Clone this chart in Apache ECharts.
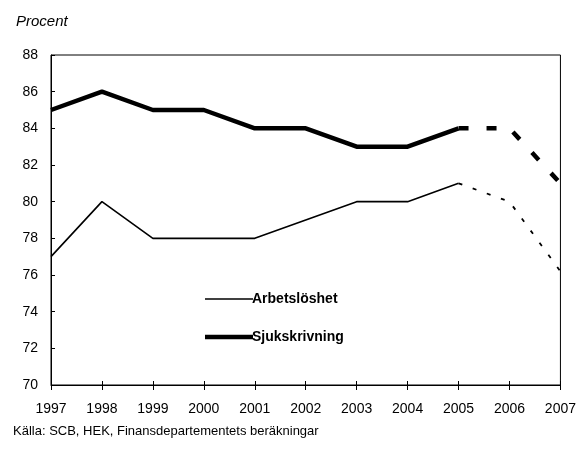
<!DOCTYPE html>
<html>
<head>
<meta charset="utf-8">
<script src="https://cdn.jsdelivr.net/npm/echarts@6/dist/echarts.min.js"></script>
<style>
  html, body { margin: 0; padding: 0; background: #fff; }
  #chart { width: 579px; height: 449px; }
</style>
</head>
<body>
<div id="chart"></div>
<script>
// år på x-axeln
var years = ['1997', '1998', '1999', '2000', '2001', '2002', '2003', '2004', '2005', '2006', '2007'];

// utfall
var arbetsloshet = [77, 80, 78, 78, 78, 79, 80, 80, 81, null, null];
var sjukskrivning = [85, 86, 85, 85, 84, 84, 83, 83, 84, null, null];

// prognos (streckad)
var arbetsloshetPrognos = [null, null, null, null, null, null, null, null, 81, 80, 76.2];
var sjukskrivningPrognos = [null, null, null, null, null, null, null, null, 84, 84, 81];

var yTicks = { min: 70, max: 88, step: 2 };

var sans = "'Liberation Sans', Arial, sans-serif";

var chart = echarts.init(document.getElementById('chart'));

// en legend per serie, så att linjetjockleken kan skilja
function legendFor(name, top, thickness) {
    return {
        data: [name],
        left: 200,
        top: top,
        icon: 'rect',
        itemWidth: 48,
        itemHeight: thickness,
        itemGap: 0,
        itemStyle: { color: '#000' },
        textStyle: { fontFamily: sans, fontWeight: 'bold', fontSize: 14, color: '#000', padding: [0, 0, 0, -6] }
    };
}

var option = {
    animation: false,
    backgroundColor: '#fff',
    title: [{
        text: 'Procent',
        left: 11,
        top: 9,
        textStyle: { fontFamily: sans, fontStyle: 'italic', fontWeight: 'normal', fontSize: 15, color: '#000' }
    }, {
        text: 'Källa: SCB, HEK, Finansdepartementets beräkningar',
        left: 8,
        top: 420,
        textStyle: { fontFamily: sans, fontWeight: 'normal', fontSize: 13, color: '#000' }
    }],
    legend: [
        legendFor('Arbetslöshet', 287, 1.6),
        legendFor('Sjukskrivning', 325, 4.5)
    ],
    grid: {
        left: 51,
        right: 18,
        top: 55,
        bottom: 64,
        show: true,
        borderColor: '#000',
        borderWidth: 1
    },
    xAxis: [{
        type: 'category',
        data: years,
        boundaryGap: false,
        axisLine: { lineStyle: { color: '#000', width: 1 } },
        axisTick: { show: true, length: 5, lineStyle: { color: '#000' } },
        axisLabel: { color: '#000', fontFamily: sans, fontSize: 14, margin: 17 },
        splitLine: { show: false }
    }, {
        type: 'category',
        data: years,
        boundaryGap: false,
        position: 'bottom',
        axisLine: { show: false },
        axisTick: { show: true, inside: true, length: 4, lineStyle: { color: '#000' } },
        axisLabel: { show: false },
        splitLine: { show: false }
    }],
    yAxis: {
        type: 'value',
        min: yTicks.min,
        max: yTicks.max,
        interval: yTicks.step,
        axisLine: { show: true, lineStyle: { color: '#000', width: 1 } },
        axisTick: { show: true, inside: true, length: 4, lineStyle: { color: '#000' } },
        axisLabel: { color: '#000', fontFamily: sans, fontSize: 14, margin: 13 },
        splitLine: { show: false }
    },
    series: [{
        name: 'Arbetslöshet',
        type: 'line',
        data: arbetsloshet,
        symbol: 'none',
        lineStyle: { color: '#000', width: 1.6 },
        itemStyle: { color: '#000' },
        z: 3
    }, {
        name: 'Sjukskrivning',
        type: 'line',
        data: sjukskrivning,
        symbol: 'none',
        lineStyle: { color: '#000', width: 4.5 },
        itemStyle: { color: '#000' },
        z: 3
    }, {
        name: 'Arbetslöshet prognos',
        type: 'line',
        data: arbetsloshetPrognos,
        symbol: 'none',
        lineStyle: { color: '#000', width: 1.8, type: [4, 11] },
        z: 2
    }, {
        name: 'Sjukskrivning prognos',
        type: 'line',
        data: sjukskrivningPrognos,
        symbol: 'none',
        lineStyle: { color: '#000', width: 4.5, type: [10, 18] },
        z: 2
    }]
};

chart.setOption(option);
</script>
</body>
</html>
